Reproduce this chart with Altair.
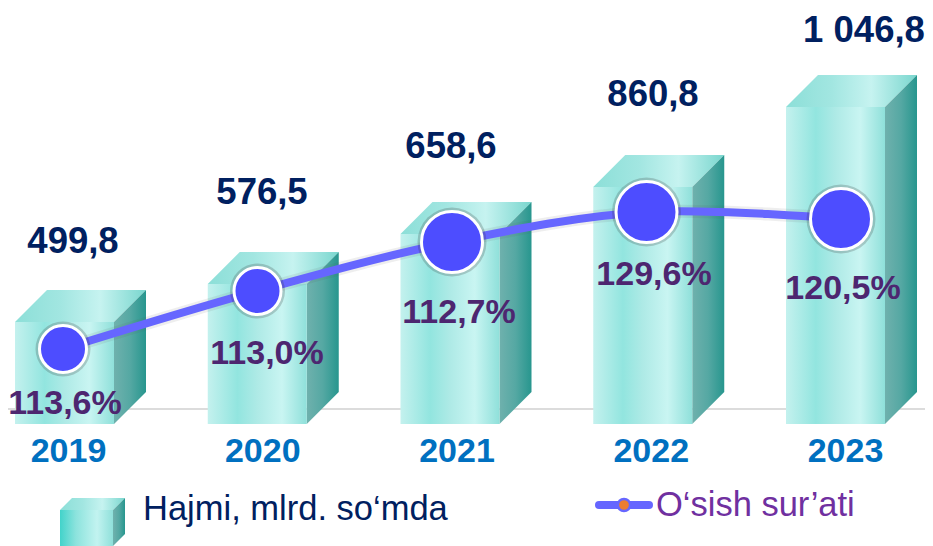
import altair as alt
import pandas as pd

# ---- values ----
years = [2019, 2020, 2021, 2022, 2023]
volume_labels = ["499,8", "576,5", "658,6", "860,8", "1 046,8"]
rate_labels = ["113,6%", "113,0%", "112,7%", "129,6%", "120,5%"]
# The source bars and line are not proportional to their labels, so the drawn
# levels are read off separately (units: reference pixels above the baseline).
bar_levels = [102, 140, 190, 237, 317]
line_levels = [75, 133, 182, 212, 205]
marker_radius = [23.5, 23.5, 30.5, 30.5, 30.5]

# ---- layout of the page, in reference pixels ----
PAGE_W, PAGE_H, MARGIN, BASE = 925, 546, 8, 424
BAR_FIRST, BAR_STEP = 64.5, 192.75
LINE_FIRST, LINE_STEP = 63, 194.5
TICK_FIRST, TICK_STEP = 68, 194.25
HALF, DEPTH = 49.5, 32
FONT = "Liberation Sans"
volume_xy = [(73, 242), (262, 193), (451, 147), (653, 95), (864, 31)]
rate_xy = [(65, 404), (267, 354), (459, 313), (654, 275), (843, 289)]


def up(py):
    return BASE - py


def year_scale(first, step):
    return alt.Scale(
        domain=[2019 + (MARGIN - first) / step, 2019 + (PAGE_W - first) / step],
        range=[0, PAGE_W - MARGIN], nice=False, zero=False,
    )


px_scale = alt.Scale(domain=[MARGIN, PAGE_W], range=[0, PAGE_W - MARGIN], nice=False, zero=False)
y_scale = alt.Scale(domain=[up(PAGE_H), up(MARGIN)], range=[PAGE_H - MARGIN, 0], nice=False, zero=False)


def grad(*stops):
    n = [(o, c) for o, c in stops]
    return alt.LinearGradient(
        gradient="linear", x1=0, x2=1, y1=0, y2=0,
        stops=[alt.GradientStop(offset=o, color=c) for o, c in n],
    )


front_grad = grad((0, "#c4f1ee"), (0.3, "#92e5df"), (0.5, "#aeeae6"), (0.75, "#c9f5f2"), (1, "#8fe0da"))
swatch_grad = grad((0, "#42d3ca"), (0.3, "#8ce3dd"), (0.7, "#c2f3f0"), (1, "#8fe0da"))
top_grad = grad((0, "#8cdfd8"), (0.35, "#a2e6e1"), (0.65, "#c6f3f0"), (1, "#79d6ce"))
side_grad = grad((0, "#6fb1ad"), (0.5, "#55a8a3"), (1, "#27968e"))


def cuboid(rows, depth_x, depth_y, scale, front):
    """rows: dicts with l, r, t, b, id; depth_x in x-scale units, depth_y in level units."""
    top, side = [], []
    for q in rows:
        l, r, t, b = q["l"], q["r"], q["t"], q["b"]
        top += [
            dict(id=q["id"], x=l, y=t, y2=t),
            dict(id=q["id"], x=l + depth_x, y=t, y2=t + depth_y),
            dict(id=q["id"], x=r, y=t, y2=t + depth_y),
            dict(id=q["id"], x=r + depth_x, y=t + depth_y, y2=t + depth_y),
        ]
        side += [
            dict(id=q["id"], x=r, y=b, y2=t),
            dict(id=q["id"], x=r + depth_x, y=b + depth_y, y2=t + depth_y),
        ]

    def area(data, fill):
        return alt.Chart(pd.DataFrame(data)).mark_area(
            fill=fill, orient="vertical", interpolate="linear", clip=False
        ).encode(
            x=alt.X("x:Q", scale=scale, axis=None),
            y=alt.Y("y:Q", scale=y_scale, axis=None),
            y2="y2:Q",
            detail="id:N",
        )

    fr = alt.Chart(pd.DataFrame(rows)).mark_bar(fill=front, clip=False).encode(
        x=alt.X("l:Q", scale=scale, axis=None),
        x2="r:Q",
        y=alt.Y("t:Q", scale=y_scale, axis=None),
        y2="b:Q",
        detail="id:N",
    )
    return [area(top, top_grad), area(side, side_grad), fr]


bar_rows = [
    dict(id=str(yr), l=yr - HALF / BAR_STEP, r=yr + HALF / BAR_STEP, t=lv, b=0)
    for yr, lv in zip(years, bar_levels)
]
bars = cuboid(bar_rows, DEPTH / BAR_STEP, DEPTH, year_scale(BAR_FIRST, BAR_STEP), front_grad)

swatch = cuboid([dict(id="s", l=60, r=113, t=up(510), b=up(546))], 12, 12, px_scale, swatch_grad)

base_line = alt.Chart(pd.DataFrame({"y": [up(409)]})).mark_rule(color="#dcdcdc", strokeWidth=2).encode(
    y=alt.Y("y:Q", scale=y_scale, axis=None)
)

tick_layer = alt.Chart(pd.DataFrame({"year": years, "y": [0] * 5})).mark_point(opacity=0).encode(
    x=alt.X(
        "year:Q", scale=year_scale(TICK_FIRST, TICK_STEP),
        axis=alt.Axis(
            values=years, format="d", title=None, domain=False, ticks=False, grid=False,
            labelFont=FONT, labelFontSize=34, labelFontWeight="bold", labelColor="#0070c0",
            labelOverlap=False, labelFlush=False, labelPadding=0, offset=-112,
        ),
    ),
    y=alt.Y("y:Q", scale=y_scale, axis=None),
)

line_df = pd.DataFrame({
    "year": years, "level": line_levels,
    "size": [(2 * r) ** 2 for r in marker_radius],
    "shadow": [(2 * (r + 4)) ** 2 for r in marker_radius],
})
line_x = alt.X("year:Q", scale=year_scale(LINE_FIRST, LINE_STEP), axis=None)
line_y = alt.Y("level:Q", scale=y_scale, axis=None)
line_shadow = alt.Chart(line_df).mark_line(
    color="#555555", opacity=0.1, strokeWidth=13, interpolate="catmull-rom"
).encode(x=line_x, y=line_y)
line = alt.Chart(line_df).mark_line(
    color="#6666ff", strokeWidth=8, interpolate="catmull-rom"
).encode(x=line_x, y=line_y)
marker_shadow = alt.Chart(line_df).mark_point(
    filled=True, shape="circle", color="#333333", opacity=0.22
).encode(x=line_x, y=line_y, size=alt.Size("shadow:Q", scale=None, legend=None))
markers = alt.Chart(line_df).mark_point(
    filled=True, shape="circle", fill="#4d4dff", stroke="#ffffff", strokeWidth=3, opacity=1
).encode(x=line_x, y=line_y, size=alt.Size("size:Q", scale=None, legend=None))


def text_layer(labels, xy, size, color, weight="bold", align="center"):
    df = pd.DataFrame({"t": labels, "x": [p[0] for p in xy], "y": [up(p[1]) for p in xy]})
    return alt.Chart(df).mark_text(
        font=FONT, fontSize=size, fontWeight=weight, color=color, align=align, baseline="middle"
    ).encode(
        x=alt.X("x:Q", scale=px_scale, axis=None),
        y=alt.Y("y:Q", scale=y_scale, axis=None),
        text="t:N",
    )


volumes = text_layer(volume_labels, volume_xy, 36.5, "#002060")
rates = text_layer(rate_labels, rate_xy, 34, "#4d2670")
legend_a = text_layer(["Hajmi, mlrd. so‘mda"], [(143, 510)], 34.5, "#002060", "normal", "left")
legend_b = text_layer(["O‘sish sur’ati"], [(656, 506)], 34.5, "#7030a0", "normal", "left")

legend_line_df = pd.DataFrame({"x": [599, 649], "y": [up(505), up(505)]})
legend_line = alt.Chart(legend_line_df).mark_line(
    color="#6666ff", strokeWidth=8, strokeCap="round"
).encode(x=alt.X("x:Q", scale=px_scale, axis=None), y=alt.Y("y:Q", scale=y_scale, axis=None))
legend_dot = alt.Chart(pd.DataFrame({"x": [624], "y": [up(505)]})).mark_point(
    filled=True, shape="circle", fill="#ed7d31", stroke="#6666ff", strokeWidth=2.5, size=150, opacity=1
).encode(x=alt.X("x:Q", scale=px_scale, axis=None), y=alt.Y("y:Q", scale=y_scale, axis=None))

chart = alt.layer(
    base_line, tick_layer, *bars, *swatch,
    line_shadow, line, marker_shadow, markers,
    volumes, rates, legend_a, legend_b, legend_line, legend_dot,
).resolve_scale(x="independent").properties(
    width=PAGE_W - MARGIN, height=PAGE_H - MARGIN,
    autosize=alt.AutoSizeParams(type="none"), padding=0, background="#ffffff",
).configure_view(stroke=None)

chart.save("out.html", embed_options={"renderer": "svg", "actions": False})
